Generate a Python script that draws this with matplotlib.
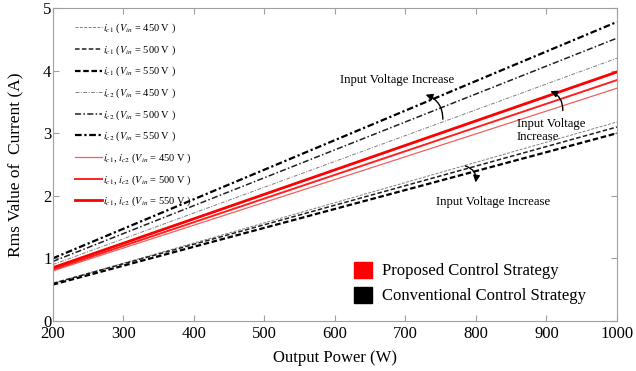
import matplotlib.pyplot as plt
from matplotlib.patches import Patch

plt.rcParams['font.family'] = ['Liberation Serif', 'DejaVu Serif']
plt.rcParams['mathtext.fontset'] = 'stix'

# output power (W) at the two ends of each line
power = [200, 1000]

# i_c2, conventional strategy (upper dash-dot group)
ic2_450 = [0.90, 4.20]
ic2_500 = [0.95, 4.52]
ic2_550 = [1.00, 4.78]

# i_c1 = i_c2, proposed strategy (red)
prop_450 = [0.80, 3.72]
prop_500 = [0.82, 3.85]
prop_550 = [0.85, 3.98]

# i_c1, conventional strategy (lower dashed group)
ic1_450 = [0.60, 3.18]
ic1_500 = [0.60, 3.10]
ic1_550 = [0.58, 3.00]

xticks = [200, 300, 400, 500, 600, 700, 800, 900, 1000]
yticks = [0, 1, 2, 3, 4, 5]

fig = plt.figure(figsize=(6.36, 3.71), dpi=100)
ax = fig.add_axes([0.083, 0.135, 0.887, 0.843])

ax.plot(power, ic1_450, color='#808080', lw=0.7, ls=(0, (3, 1.5)),
        label=r'$i_{c1}$ ($V_{in}$ = 450 V )')
ax.plot(power, ic1_500, color='#202020', lw=1.1, ls=(0, (3, 1.5)),
        label=r'$i_{c1}$ ($V_{in}$ = 500 V )')
ax.plot(power, ic1_550, color='black', lw=1.6, ls=(0, (2.5, 1.2)),
        label=r'$i_{c1}$ ($V_{in}$ = 550 V )')
ax.plot(power, ic2_450, color='#808080', lw=0.7, ls=(0, (4, 1.5, 1, 1.5)),
        label=r'$i_{c2}$ ($V_{in}$ = 450 V )')
ax.plot(power, ic2_500, color='#202020', lw=1.1, ls=(0, (4, 1.5, 1, 1.5)),
        label=r'$i_{c2}$ ($V_{in}$ = 500 V )')
ax.plot(power, ic2_550, color='black', lw=1.6, ls=(0, (3, 1.2, 1, 1.2)),
        label=r'$i_{c2}$ ($V_{in}$ = 550 V )')
ax.plot(power, prop_450, color='#f06060', lw=0.9,
        label=r'$i_{c1}$, $i_{c2}$ ($V_{in}$ = 450 V )')
ax.plot(power, prop_500, color='#ff2020', lw=1.4,
        label=r'$i_{c1}$, $i_{c2}$ ($V_{in}$ = 500 V )')
ax.plot(power, prop_550, color='#ff0000', lw=2.0,
        label=r'$i_{c1}$, $i_{c2}$ ($V_{in}$ = 550 V )')

leg1 = ax.legend(loc='upper left', bbox_to_anchor=(0.027, 0.98), frameon=False,
                 fontsize=7.5, labelspacing=0.78, handlelength=2.6,
                 handletextpad=0.1, borderaxespad=0.3)
ax.add_artist(leg1)

ax.legend(handles=[Patch(color='#ff0000', label='Proposed Control Strategy'),
                   Patch(color='black', label='Conventional Control Strategy')],
          loc='lower left', bbox_to_anchor=(0.507, 0.005), frameon=False,
          fontsize=12, handlelength=1.1, handleheight=1.1,
          handletextpad=0.6, labelspacing=0.45)

# annotations
ax.text(688, 3.85, 'Input Voltage Increase', fontsize=9.2, ha='center', va='center')
ax.annotate('', xy=(725, 3.63), xytext=(753, 3.18),
            arrowprops=dict(arrowstyle='-|>', color='black', lw=1,
                            connectionstyle='arc3,rad=0.4'))
ax.text(858, 3.05, 'Input Voltage\nIncrease', fontsize=9.2, ha='left', va='center',
        linespacing=1.1)
ax.annotate('', xy=(902, 3.69), xytext=(923, 3.32),
            arrowprops=dict(arrowstyle='-|>', color='black', lw=1,
                            connectionstyle='arc3,rad=0.4'))
ax.text(824, 1.90, 'Input Voltage Increase', fontsize=9.2, ha='center', va='center')
ax.annotate('', xy=(799, 2.17), xytext=(781, 2.49),
            arrowprops=dict(arrowstyle='-|>', color='black', lw=1,
                            connectionstyle='arc3,rad=-0.5'))

ax.set_xlim(200, 1000)
ax.set_ylim(0, 5)
ax.set_xticks(xticks)
ax.set_yticks(yticks)
ax.tick_params(direction='in', top=True, right=True, color='#a0a0a0',
               labelsize=12, length=4)
ax.tick_params(axis='y', pad=1)
for s in ax.spines.values():
    s.set_color('#a0a0a0')

ax.set_xlabel('Output Power (W)', fontsize=12, labelpad=6)
ax.set_ylabel('Rms Value of  Current (A)', fontsize=12.5, labelpad=14)

fig.savefig('out.png', dpi=100)
